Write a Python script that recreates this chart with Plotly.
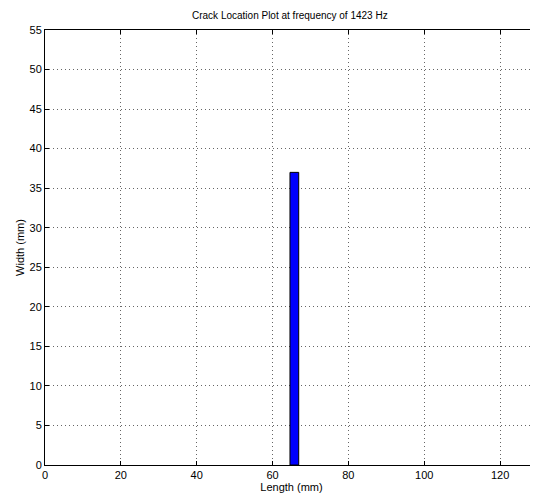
import plotly.graph_objects as go

bar_x = [65.75]
bar_y = [37]
bar_width = [2.3]
x_ticks = [0, 20, 40, 60, 80, 100, 120]
y_ticks = [0, 5, 10, 15, 20, 25, 30, 35, 40, 45, 50, 55]

FONT = "Liberation Sans Narrow, Arial Narrow, Liberation Sans, Arial"

fig = go.Figure(go.Bar(
    x=bar_x, y=bar_y, width=bar_width,
    marker=dict(color="#0000ff", line=dict(color="#000000", width=1)),
))

axis_common = dict(
    showline=True, linecolor="#000000", linewidth=1, mirror="ticks",
    ticks="inside", ticklen=4, tickcolor="#000000",
    showgrid=True, gridcolor="rgba(0,0,0,0.6)", griddash="1px,3px", gridwidth=1,
    zeroline=False, automargin=False,
    tickfont=dict(family=FONT, size=11, color="#000000"),
)

# page is shown with an 8px body margin, so the figure is sized to fit
fig.update_layout(
    width=530, height=491,
    margin=dict(l=37, r=0, t=22, b=34),
    paper_bgcolor="white", plot_bgcolor="white",
    showlegend=False,
    xaxis=dict(range=[0, 130], tickvals=x_ticks,
               title=dict(text="Length (mm)", standoff=3,
                          font=dict(family=FONT, size=11, color="#000000")),
               **axis_common),
    yaxis=dict(range=[0, 55], tickvals=y_ticks,
               title=dict(text="Width (mm)", standoff=2,
                          font=dict(family=FONT, size=11, color="#000000")),
               **axis_common),
    annotations=[dict(text="Crack Location Plot at frequency of 1423 Hz",
                      xref="paper", yref="paper", x=0.5, y=1,
                      xanchor="center", yanchor="bottom", yshift=7, xshift=-2,
                      showarrow=False,
                      font=dict(family=FONT, size=10, color="#000000"))],
)

fig.write_html("out.html")
